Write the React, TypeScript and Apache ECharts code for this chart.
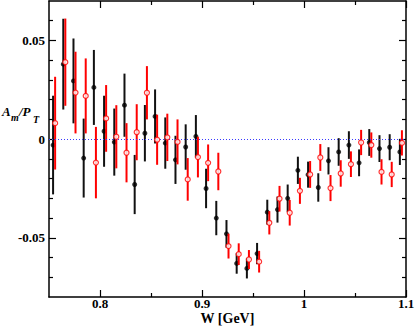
import React, { useEffect, useRef } from "react";
import * as echarts from "echarts";

// Black (filled) data set
const blackW = [0.754, 0.764, 0.774, 0.784, 0.794, 0.804, 0.814, 0.824, 0.834, 0.844, 0.854, 0.864, 0.874, 0.884, 0.894, 0.904, 0.914, 0.924, 0.934, 0.944, 0.954, 0.964, 0.974, 0.984, 0.994, 1.004, 1.014, 1.024, 1.034, 1.044, 1.054, 1.064, 1.074, 1.084, 1.094];
const blackA = [-0.003, 0.038, 0.0295, -0.0096, 0.0262, 0.004, -0.0015, 0.0172, -0.023, 0.003, 0.0115, -0.002, -0.0105, -0.004, 0.0014, -0.025, -0.040, -0.048, -0.063, -0.0655, -0.058, -0.037, -0.0357, -0.030, -0.0158, -0.018, -0.0245, -0.011, -0.0065, -0.003, -0.012, -0.0017, -0.0048, -0.0041, -0.0065];
const blackErr = [0.025, 0.023, 0.0215, 0.020, 0.019, 0.018, 0.017, 0.016, 0.015, 0.0143, 0.0137, 0.013, 0.0122, 0.0115, 0.0108, 0.010, 0.0087, 0.007, 0.0052, 0.0051, 0.0054, 0.0063, 0.0066, 0.007, 0.0069, 0.0066, 0.0072, 0.0069, 0.007, 0.007, 0.0068, 0.0068, 0.0068, 0.0066, 0.0066];

// Red (open) data set
const redW = [0.756, 0.766, 0.776, 0.786, 0.796, 0.806, 0.816, 0.826, 0.836, 0.846, 0.856, 0.866, 0.876, 0.886, 0.896, 0.906, 0.916, 0.926, 0.936, 0.946, 0.956, 0.966, 0.976, 0.986, 0.996, 1.006, 1.016, 1.026, 1.036, 1.046, 1.056, 1.066, 1.076, 1.086, 1.096];
const redA = [0.0081, 0.039, 0.0236, 0.0219, -0.0119, 0.0105, 0.0012, -0.0069, 0.0035, 0.0235, -0.0003, 0.0009, -0.0014, -0.0204, -0.0091, -0.012, -0.0164, -0.0542, -0.0583, -0.061, -0.0621, -0.0424, -0.0302, -0.0373, -0.0262, -0.0179, -0.0093, -0.0248, -0.0174, -0.0127, -0.0017, -0.003, -0.0166, -0.0179, -0.0019];
const redErr = [0.0235, 0.0221, 0.0207, 0.019, 0.0181, 0.0169, 0.016, 0.015, 0.0142, 0.0135, 0.0127, 0.012, 0.0114, 0.0108, 0.0103, 0.0093, 0.0095, 0.0063, 0.0055, 0.0048, 0.0055, 0.0059, 0.0065, 0.0065, 0.0066, 0.0068, 0.0068, 0.0066, 0.0067, 0.0065, 0.0064, 0.0064, 0.0064, 0.0064, 0.0064];

// Axis ticks
const xMajor = [0.8, 0.9, 1.0, 1.1];
const xMinor = [0.85, 0.95, 1.05];
const yMajor = [-0.05, 0, 0.05];
const yMinor = [-0.07, -0.06, -0.04, -0.03, -0.02, -0.01, 0.01, 0.02, 0.03, 0.04, 0.06];

const FONT = "Liberation Serif";

export default function App() {
  const ref = useRef<HTMLDivElement>(null);
  useEffect(() => {
    document.body.style.margin = "0";
    const chart = echarts.init(ref.current!, null, { renderer: "svg" });
    const blackData = blackW.map((w, i) => [w, blackA[i], blackErr[i]]);
    const redData = redW.map((w, i) => [w, redA[i], redErr[i]]);

    const errBar = (color: string) => (params: any, api: any) => {
      const x = api.value(0);
      const y = api.value(1);
      const e = api.value(2);
      const p1 = api.coord([x, y + e]);
      const p2 = api.coord([x, y - e]);
      return {
        type: "line",
        shape: { x1: p1[0], y1: p1[1], x2: p2[0], y2: p2[1] },
        style: { stroke: color, lineWidth: 2 },
      };
    };

    const hidden = { show: false };
    const baseX = { type: "value", min: 0.75, max: 1.1, splitLine: hidden, gridIndex: 0 };
    const baseY = { type: "value", min: -0.08, max: 0.07, splitLine: hidden, gridIndex: 0 };
    const line = { show: true, onZero: false, lineStyle: { color: "#000", width: 1.5 } };
    const noLine = { show: false, onZero: false };
    const tick = (len: number, vals: number[]) => ({
      show: true,
      inside: true,
      length: len,
      customValues: vals,
      lineStyle: { color: "#000", width: 1.2 },
    });
    const txt = (text: string, left: number, top: number, size: number) => ({
      type: "text",
      left,
      top,
      style: { text, fontFamily: FONT, fontStyle: "italic", fontWeight: "bold", fontSize: size, fill: "#000" },
    });

    chart.setOption({
      animation: false,
      grid: { left: 49, right: 9, top: 1, bottom: 30, containLabel: false, outerBoundsMode: "none" },
      xAxis: [
        {
          ...baseX,
          position: "bottom",
          axisLine: line,
          axisTick: tick(7, xMajor),
          axisLabel: {
            customValues: xMajor,
            margin: 0,
            color: "#000",
            fontFamily: FONT,
            fontWeight: "bold",
            fontSize: 13,
          },
          name: "W [GeV]",
          nameLocation: "middle",
          nameGap: 14.5,
          nameMoveOverlap: false,
          nameTextStyle: { color: "#000", fontFamily: FONT, fontWeight: "bold", fontSize: 14 },
        },
        { ...baseX, position: "bottom", axisLine: noLine, axisTick: tick(4, xMinor), axisLabel: hidden },
        { ...baseX, position: "top", axisLine: line, axisTick: tick(7, xMajor), axisLabel: hidden },
        { ...baseX, position: "top", axisLine: noLine, axisTick: tick(4, xMinor), axisLabel: hidden },
      ],
      yAxis: [
        {
          ...baseY,
          position: "left",
          axisLine: line,
          axisTick: tick(7, yMajor),
          axisLabel: {
            customValues: yMajor,
            margin: 4,
            color: "#000",
            fontFamily: FONT,
            fontWeight: "bold",
            fontSize: 13,
          },
        },
        { ...baseY, position: "left", axisLine: noLine, axisTick: tick(4, yMinor), axisLabel: hidden },
        { ...baseY, position: "right", axisLine: line, axisTick: tick(7, yMajor), axisLabel: hidden },
        { ...baseY, position: "right", axisLine: noLine, axisTick: tick(4, yMinor), axisLabel: hidden },
      ],
      graphic: [
        txt("A", 2, 105, 13),
        txt("m", 11, 112, 10),
        txt("/P", 19, 105, 13),
        txt("T", 33, 114, 10),
      ],
      series: [
        {
          type: "custom",
          name: "black err",
          xAxisIndex: 0,
          yAxisIndex: 0,
          renderItem: errBar("#111"),
          data: blackData,
          encode: { x: 0, y: 1 },
          z: 2,
          markLine: {
            silent: true,
            symbol: "none",
            label: { show: false },
            lineStyle: { color: "#3a3aff", type: [1, 2], width: 1 },
            data: [{ yAxis: 0 }],
          },
        },
        {
          type: "scatter",
          name: "black",
          xAxisIndex: 0,
          yAxisIndex: 0,
          data: blackData.map((d) => [d[0], d[1]]),
          symbol: "circle",
          symbolSize: 5,
          itemStyle: { color: "#000" },
          z: 3,
        },
        {
          type: "custom",
          name: "red err",
          xAxisIndex: 0,
          yAxisIndex: 0,
          renderItem: errBar("#ff0000"),
          data: redData,
          encode: { x: 0, y: 1 },
          z: 4,
        },
        {
          type: "scatter",
          name: "red",
          xAxisIndex: 0,
          yAxisIndex: 0,
          data: redData.map((d) => [d[0], d[1]]),
          symbol: "circle",
          symbolSize: 5,
          itemStyle: { color: "#fff", borderColor: "#ff0000", borderWidth: 1.2 },
          z: 5,
        },
      ],
    });
    return () => chart.dispose();
  }, []);
  return <div ref={ref} style={{ width: 415, height: 327, position: "absolute", left: 0, top: 0 }} />;
}
